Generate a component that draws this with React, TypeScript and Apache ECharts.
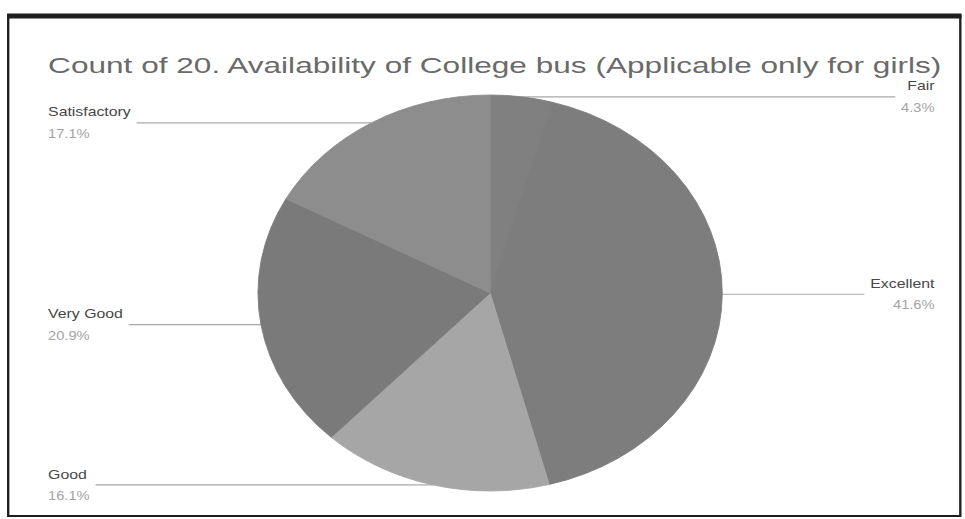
import React, { useEffect, useRef } from "react";
import * as echarts from "echarts";

const titleText = "Count of 20. Availability of College bus (Applicable only for girls)";
const categories = ["Fair", "Excellent", "Good", "Very Good", "Satisfactory"];
const values = [4.3, 41.6, 16.1, 20.9, 17.1];
const colors = ["#808080", "#7d7d7d", "#a6a6a6", "#7a7a7a", "#8d8d8d"];

const STRETCH = 965 / 823;
const FONT = 'Arial, "Liberation Sans", sans-serif';

export default function App() {
  const ref = useRef<HTMLDivElement | null>(null);
  useEffect(() => {
    document.body.style.margin = "0";
    document.body.style.overflow = "hidden";
    if (!ref.current) return;
    const chart = echarts.init(ref.current, undefined, { renderer: "svg" });
    const data = categories.map((c, i) => ({
      name: c,
      value: values[i],
      itemStyle: { color: colors[i], borderColor: colors[i], borderWidth: 0.8 },
    }));
    chart.setOption({
      animation: false,
      backgroundColor: "#ffffff",
      graphic: [
        {
          type: "rect",
          shape: { x: 7, y: 16, width: 812, height: 500 },
          style: { fill: "none", stroke: "#1e1e1e", lineWidth: 2 },
          silent: true,
        },
        {
          type: "line",
          shape: { x1: 6, y1: 16, x2: 820, y2: 16 },
          style: { stroke: "#1e1e1e", lineWidth: 5 },
          silent: true,
        },
        {
          type: "text",
          x: 41,
          y: 65,
          scaleX: 1.225,
          style: {
            text: titleText,
            font: `22px ${FONT}`,
            fill: "#6a6a6a",
            verticalAlign: "middle",
            align: "left",
          },
          silent: true,
        },
      ],
      series: [
        {
          type: "pie",
          left: 15,
          right: 0,
          top: 0,
          bottom: 0,
          center: [403, 293],
          radius: 198,
          startAngle: 90,
          clockwise: true,
          percentPrecision: 1,
          avoidLabelOverlap: true,
          emphasis: { disabled: true },
          label: {
            show: true,
            position: "outer",
            alignTo: "edge",
            edgeDistance: 26,
            formatter: "{n|{b}}\n{p|{d}%}",
            rich: {
              n: { fontSize: 13.5, color: "#474747", lineHeight: 22, fontFamily: FONT },
              p: { fontSize: 12.5, color: "#a4a4a4", lineHeight: 22, fontFamily: FONT },
            },
          },
          labelLine: {
            show: true,
            length: 0,
            length2: 0,
            smooth: false,
            lineStyle: { color: "#a8a8a8", width: 1.2 },
          },
          data,
        },
      ],
    });
    return () => chart.dispose();
  }, []);
  return (
    <div
      style={{
        width: 823,
        height: 519,
        transform: `scaleX(${STRETCH})`,
        transformOrigin: "0 0",
      }}
    >
      <div ref={ref} style={{ width: 823, height: 519 }} />
    </div>
  );
}
